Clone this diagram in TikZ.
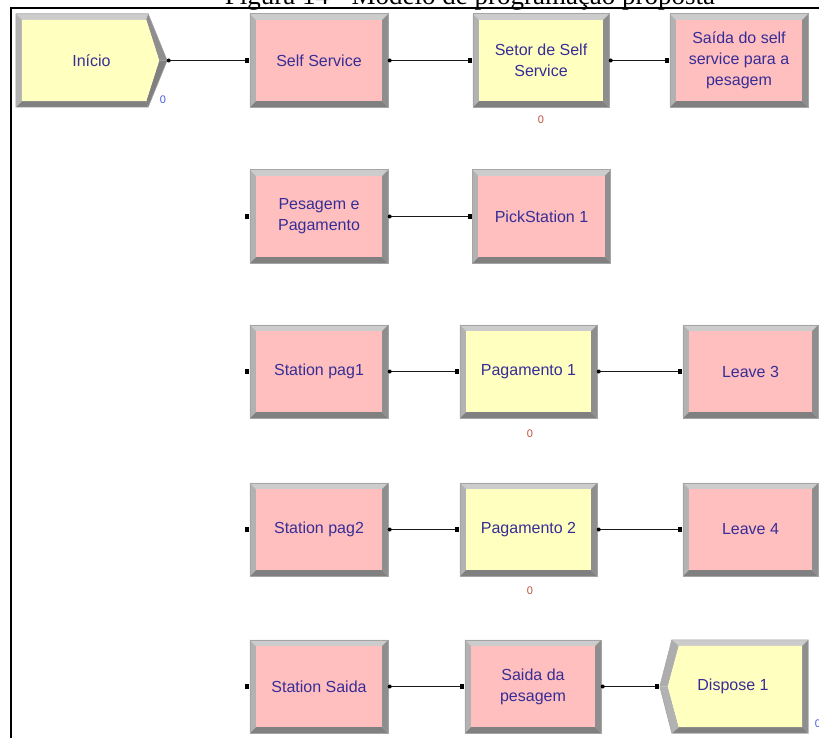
\documentclass[tikz,border=0pt]{standalone}
\usepackage{fontspec}
\setmainfont{Liberation Serif}
\setsansfont{Liberation Sans}
\usetikzlibrary{backgrounds}

\definecolor{procpink}{RGB}{255,191,191}
\definecolor{termyellow}{RGB}{255,255,192}
\definecolor{labelblue}{RGB}{55,45,150}
\definecolor{bvtop}{RGB}{204,204,204}
\definecolor{bvleft}{RGB}{178,178,178}
\definecolor{bvright}{RGB}{142,142,142}
\definecolor{bvbot}{RGB}{128,128,128}
\definecolor{bvedge}{RGB}{165,165,165}
\definecolor{cntblue}{RGB}{70,90,220}
\definecolor{cntred}{RGB}{190,80,60}

% bevel width of the module frames
\newcommand\bvw{6pt}

% rectangular module with a bevelled grey frame: #1 node name, #2 face colour
\newcommand\bevelbox[2]{%
  \fill[bvtop] (#1.north west) -- (#1.north east)
     -- ([shift={(-\bvw,-\bvw)}]#1.north east) -- ([shift={(\bvw,-\bvw)}]#1.north west) -- cycle;
  \fill[bvleft] (#1.north west) -- ([shift={(\bvw,-\bvw)}]#1.north west)
     -- ([shift={(\bvw,\bvw)}]#1.south west) -- (#1.south west) -- cycle;
  \fill[bvright] (#1.north east) -- (#1.south east)
     -- ([shift={(-\bvw,\bvw)}]#1.south east) -- ([shift={(-\bvw,-\bvw)}]#1.north east) -- cycle;
  \fill[bvbot] (#1.south west) -- ([shift={(\bvw,\bvw)}]#1.south west)
     -- ([shift={(-\bvw,\bvw)}]#1.south east) -- (#1.south east) -- cycle;
  \fill[#2] ([shift={(\bvw,-\bvw)}]#1.north west) rectangle ([shift={(-\bvw,\bvw)}]#1.south east);
  \draw[bvedge, line width=0.6pt] (#1.north west) rectangle (#1.south east);
}

% entry and exit points of a module
\newcommand\inport[1]{\fill[black] ([shift={(-4.5pt,-2.5pt)}]#1.west) rectangle ([shift={(-0.5pt,2.5pt)}]#1.west);}
\newcommand\outport[1]{\fill[black] ([xshift=1.5pt]#1.east) circle (2pt);}

\begin{document}
\begin{tikzpicture}[x=1pt, y=-1pt,
  module/.style={rectangle, draw=none, minimum width=138pt, minimum height=93pt,
    inner sep=2pt, align=center, text=labelblue,
    font=\sffamily\fontsize{16}{21}\selectfont},
  counter/.style={inner sep=0pt, font=\sffamily\fontsize{11}{11}\selectfont},
  flow/.style={line width=1.5pt, black!90}]

\useasboundingbox (0,0) rectangle (819,738);
\clip (0,0) rectangle (819,738);

% caption and frame
\node[anchor=base, inner sep=0pt, font=\fontsize{27}{27}\selectfont] (title) at (470,5)
  {Figura 14 - Modelo de programação proposta};
\draw[line width=1.4pt] (11,738) -- (11,8) -- (819,8);

% row 1
\node[module, minimum width=151pt] (inicio) at (91.5,60.5) {Início};
\node[module] (self) at (319,60.5) {Self Service};
\node[module, minimum width=136pt] (setor) at (541,60.5) {Setor de Self\\Service};
\node[module] (saidaself) at (739,60.5) {Saída do self\\service para a\\pesagem};
% row 2
\node[module] (pesagem) at (319,216.5) {Pesagem e\\Pagamento};
\node[module] (pick) at (541.5,216.5) {PickStation 1};
% row 3
\node[module] (st1) at (319,371.5) {Station pag1};
\node[module, minimum width=137pt] (pag1) at (528.5,371.5) {Pagamento 1};
\node[module, minimum width=135pt] (leave3) at (750.5,371.5) {Leave 3};
% row 4
\node[module] (st2) at (319,529.5) {Station pag2};
\node[module, minimum width=137pt] (pag2) at (528.5,529.5) {Pagamento 2};
\node[module, minimum width=135pt] (leave4) at (750.5,529.5) {Leave 4};
% row 5
\node[module] (stsaida) at (319,686.5) {Station Saida};
\node[module, minimum width=136pt] (saidapes) at (533,686.5) {Saida da\\pesagem};
\node[module, minimum width=148pt] (dispose) at (734,686.5) {};
\node[module, minimum width=10pt, minimum height=10pt] (disptext) at (733,686.5) {Dispose 1};

% queue counters
\node[counter, text=cntblue] (c1) at (163,100) {0};
\node[counter, text=cntred] (c2) at (541,120) {0};
\node[counter, text=cntred] (c3) at (530,434) {0};
\node[counter, text=cntred] (c4) at (530,591) {0};
\node[counter, text=cntblue] (c5) at (818,724) {0};

\begin{pgfonlayer}{background}
  \bevelbox{self}{procpink}
  \bevelbox{setor}{termyellow}
  \bevelbox{saidaself}{procpink}
  \bevelbox{pesagem}{procpink}
  \bevelbox{pick}{procpink}
  \bevelbox{st1}{procpink}
  \bevelbox{pag1}{termyellow}
  \bevelbox{leave3}{procpink}
  \bevelbox{st2}{procpink}
  \bevelbox{pag2}{termyellow}
  \bevelbox{leave4}{procpink}
  \bevelbox{stsaida}{procpink}
  \bevelbox{saidapes}{procpink}

  % Create module: pentagon pointing right
  \coordinate (o1) at (inicio.north west);
  \coordinate (o2) at ([xshift=-19pt]inicio.north east);
  \coordinate (o3) at (inicio.east);
  \coordinate (o4) at ([xshift=-19pt]inicio.south east);
  \coordinate (o5) at (inicio.south west);
  \coordinate (i1) at ([shift={(6pt,-6pt)}]inicio.north west);
  \coordinate (i2) at ([shift={(-21pt,-6pt)}]inicio.north east);
  \coordinate (i3) at ([xshift=-8pt]inicio.east);
  \coordinate (i4) at ([shift={(-21pt,6pt)}]inicio.south east);
  \coordinate (i5) at ([shift={(6pt,6pt)}]inicio.south west);
  \fill[bvtop] (o1) -- (o2) -- (i2) -- (i1) -- cycle;
  \fill[bvright] (o2) -- (o3) -- (i3) -- (i2) -- cycle;
  \fill[bvbot] (o3) -- (o4) -- (i4) -- (i3) -- cycle;
  \fill[bvbot] (o4) -- (o5) -- (i5) -- (i4) -- cycle;
  \fill[bvleft] (o5) -- (o1) -- (i1) -- (i5) -- cycle;
  \fill[termyellow] (i1) -- (i2) -- (i3) -- (i4) -- (i5) -- cycle;
  \draw[bvedge, line width=0.6pt] (o1) -- (o2) -- (o3) -- (o4) -- (o5) -- cycle;

  % Dispose module: pentagon pointing left
  \coordinate (p1) at ([xshift=12pt]dispose.north west);
  \coordinate (p2) at (dispose.north east);
  \coordinate (p3) at (dispose.south east);
  \coordinate (p4) at ([xshift=12pt]dispose.south west);
  \coordinate (p5) at (dispose.west);
  \coordinate (j1) at ([shift={(19pt,-6pt)}]dispose.north west);
  \coordinate (j2) at ([shift={(-6pt,-6pt)}]dispose.north east);
  \coordinate (j3) at ([shift={(-6pt,6pt)}]dispose.south east);
  \coordinate (j4) at ([shift={(19pt,6pt)}]dispose.south west);
  \coordinate (j5) at ([xshift=8pt]dispose.west);
  \fill[bvtop] (p1) -- (p2) -- (j2) -- (j1) -- cycle;
  \fill[bvright] (p2) -- (p3) -- (j3) -- (j2) -- cycle;
  \fill[bvbot] (p3) -- (p4) -- (j4) -- (j3) -- cycle;
  \fill[bvleft] (p4) -- (p5) -- (j5) -- (j4) -- cycle;
  \fill[bvtop!85!black] (p5) -- (p1) -- (j1) -- (j5) -- cycle;
  \fill[termyellow] (j1) -- (j2) -- (j3) -- (j4) -- (j5) -- cycle;
  \draw[bvedge, line width=0.6pt] (p1) -- (p2) -- (p3) -- (p4) -- (p5) -- cycle;
\end{pgfonlayer}

% connectors
\draw[flow] (inicio.east) -- ([xshift=-3pt]self.west);
\draw[flow] (self.east) -- ([xshift=-3pt]setor.west);
\draw[flow] (setor.east) -- ([xshift=-3pt]saidaself.west);
\draw[flow] (pesagem.east) -- ([xshift=-3pt]pick.west);
\draw[flow] (st1.east) -- ([xshift=-3pt]pag1.west);
\draw[flow] (pag1.east) -- ([xshift=-3pt]leave3.west);
\draw[flow] (st2.east) -- ([xshift=-3pt]pag2.west);
\draw[flow] (pag2.east) -- ([xshift=-3pt]leave4.west);
\draw[flow] (stsaida.east) -- ([xshift=-3pt]saidapes.west);
\draw[flow] (saidapes.east) -- ([xshift=-3pt]dispose.west);

% entry and exit points
\foreach \m in {self,setor,saidaself,pesagem,pick,st1,pag1,leave3,st2,pag2,leave4,stsaida,saidapes,dispose}
  {\inport{\m}}
\foreach \m in {inicio,self,setor,pesagem,st1,pag1,st2,pag2,stsaida,saidapes}
  {\outport{\m}}
\end{tikzpicture}
\end{document}
